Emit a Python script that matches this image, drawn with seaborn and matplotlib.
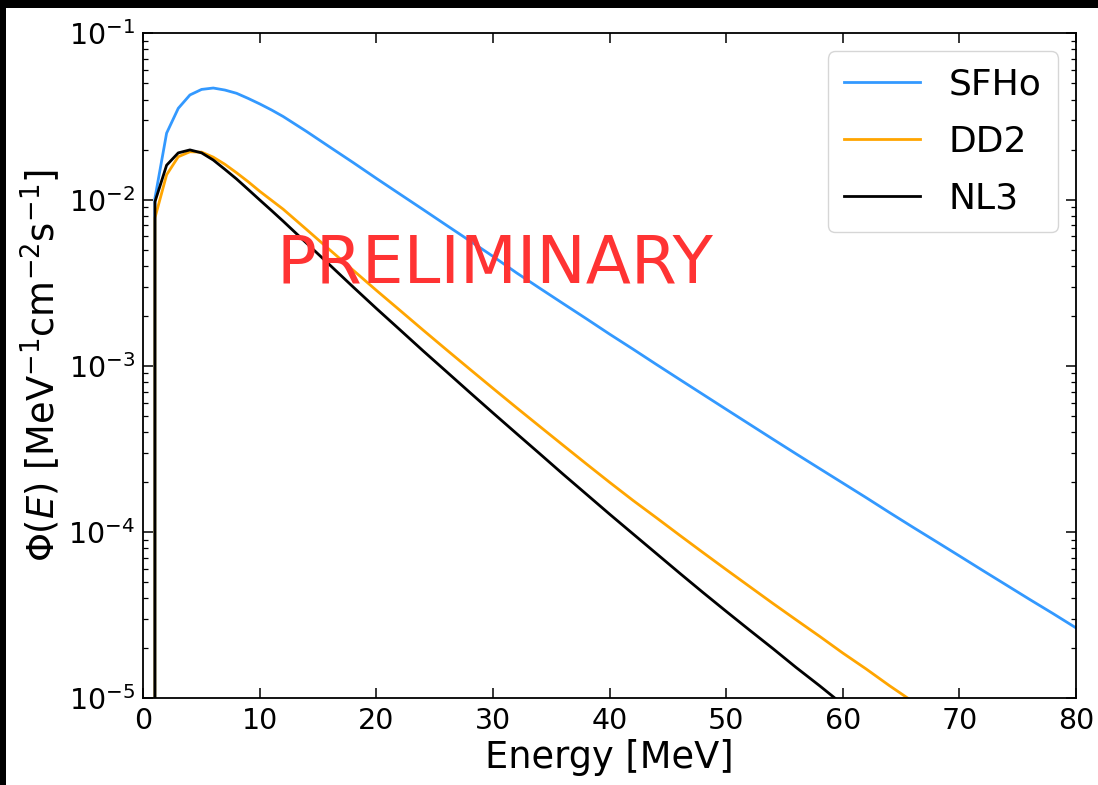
import numpy as np
import pandas as pd
import matplotlib
matplotlib.use("Agg")
import matplotlib.pyplot as plt
import seaborn as sns
from matplotlib.patches import Rectangle

# ---- data ----
energy = [0, 1, 2, 3, 4, 5, 6, 7, 8, 9, 10, 11, 12,
          14, 16, 18, 20, 22, 24, 26, 28, 30, 32, 34, 36, 38, 40,
          42, 44, 46, 48, 50, 52, 54, 56, 58, 60, 62, 64, 66, 68,
          70, 72, 74, 76, 78, 80]

sfho = [0.0, 1.02e-2, 2.51e-2, 3.54e-2, 4.26e-2, 4.60e-2, 4.69e-2, 4.56e-2,
        4.36e-2, 4.06e-2, 3.76e-2, 3.46e-2, 3.16e-2,
        2.57e-2, 2.07e-2, 1.67e-2, 1.34e-2, 1.08e-2, 8.71e-3, 7.01e-3,
        5.65e-3, 4.55e-3, 3.63e-3, 2.93e-3, 2.37e-3, 1.92e-3, 1.55e-3,
        1.26e-3, 1.02e-3, 8.28e-4, 6.73e-4, 5.47e-4, 4.45e-4, 3.62e-4,
        2.95e-4, 2.41e-4, 1.97e-4, 1.61e-4, 1.31e-4, 1.07e-4, 8.77e-5,
        7.18e-5, 5.87e-5, 4.81e-5, 3.94e-5, 3.24e-5, 2.65e-5]

dd2 = [0.0, 7.76e-3, 1.41e-2, 1.81e-2, 1.94e-2, 1.93e-2, 1.80e-2, 1.63e-2,
       1.45e-2, 1.28e-2, 1.12e-2, 9.90e-3, 8.75e-3,
       6.61e-3, 4.98e-3, 3.76e-3, 2.84e-3, 2.16e-3, 1.64e-3, 1.25e-3,
       9.55e-4, 7.31e-4, 5.61e-4, 4.32e-4, 3.33e-4, 2.57e-4, 1.99e-4,
       1.55e-4, 1.22e-4, 9.57e-5, 7.53e-5, 5.94e-5, 4.70e-5, 3.72e-5,
       2.96e-5, 2.36e-5, 1.87e-5, 1.50e-5, 1.19e-5, 9.55e-6]

nl3 = [0.0, 9.70e-3, 1.61e-2, 1.91e-2, 1.99e-2, 1.91e-2, 1.73e-2, 1.52e-2,
       1.33e-2, 1.15e-2, 9.93e-3, 8.59e-3, 7.41e-3,
       5.47e-3, 4.04e-3, 2.98e-3, 2.21e-3, 1.65e-3, 1.23e-3, 9.23e-4,
       6.92e-4, 5.20e-4, 3.92e-4, 2.96e-4, 2.23e-4, 1.69e-4, 1.28e-4,
       9.75e-5, 7.43e-5, 5.66e-5, 4.33e-5, 3.33e-5, 2.57e-5, 1.99e-5,
       1.53e-5, 1.19e-5, 9.17e-6]

series_names = ["SFHo", "DD2", "NL3"]
series_values = [sfho, dd2, nl3]
series_colors = ["#3399ff", "#ffa500", "#000000"]

x_ticks = [0, 10, 20, 30, 40, 50, 60, 70, 80]

rows = []
for name, vals in zip(series_names, series_values):
    for e, v in zip(energy[:len(vals)], vals):
        rows.append({"Energy": e, "Flux": v, "Model": name})
df = pd.DataFrame(rows)

# ---- figure ----
plt.rcParams["font.family"] = ["DejaVu Sans"]
plt.rcParams["mathtext.fontset"] = "dejavusans"

fig = plt.figure(figsize=(10.98, 7.85), dpi=100)
ax = fig.add_axes([0.1305, 0.1105, 0.8495, 0.847])

sns.lineplot(data=df, x="Energy", y="Flux", hue="Model",
             hue_order=series_names, palette=series_colors,
             estimator=None, sort=False, linewidth=2.0, ax=ax)

ax.set_yscale("log")
ax.set_xlim(0, 80)
ax.set_ylim(1e-5, 1e-1)
ax.set_xticks(x_ticks)

ax.set_xlabel("Energy [MeV]", fontsize=26.5, labelpad=3)
ax.set_ylabel(r"$\Phi(E)$ [MeV$^{-1}$cm$^{-2}$s$^{-1}$]", fontsize=26.5, labelpad=4)

ax.tick_params(which="both", direction="in", top=True, right=True)
ax.tick_params(which="major", length=7, width=1.1, labelsize=20.5, pad=6)
ax.tick_params(which="minor", length=3.5, width=0.9)
for s in ax.spines.values():
    s.set_linewidth(1.3)

ax.text(0.143, 0.653, "PRELIMINARY", transform=ax.transAxes,
        color="#ff3333", fontsize=47.5, ha="left", va="center")

leg = ax.legend(loc="upper right", fontsize=26, handlelength=2.1,
                handletextpad=0.8, labelspacing=0.64, borderpad=0.45,
                borderaxespad=0.5, frameon=True)
leg.get_frame().set_edgecolor("#cccccc")
for line in leg.get_lines():
    line.set_linewidth(2.0)

# dark border strips present in the reference image
fig.patches.append(Rectangle((0, 1 - 8 / 785), 1, 8 / 785, transform=fig.transFigure,
                             facecolor="black", edgecolor="none", zorder=10))
fig.patches.append(Rectangle((0, 0), 6 / 1098, 1, transform=fig.transFigure,
                             facecolor="black", edgecolor="none", zorder=10))

fig.savefig("out.png", dpi=100)
